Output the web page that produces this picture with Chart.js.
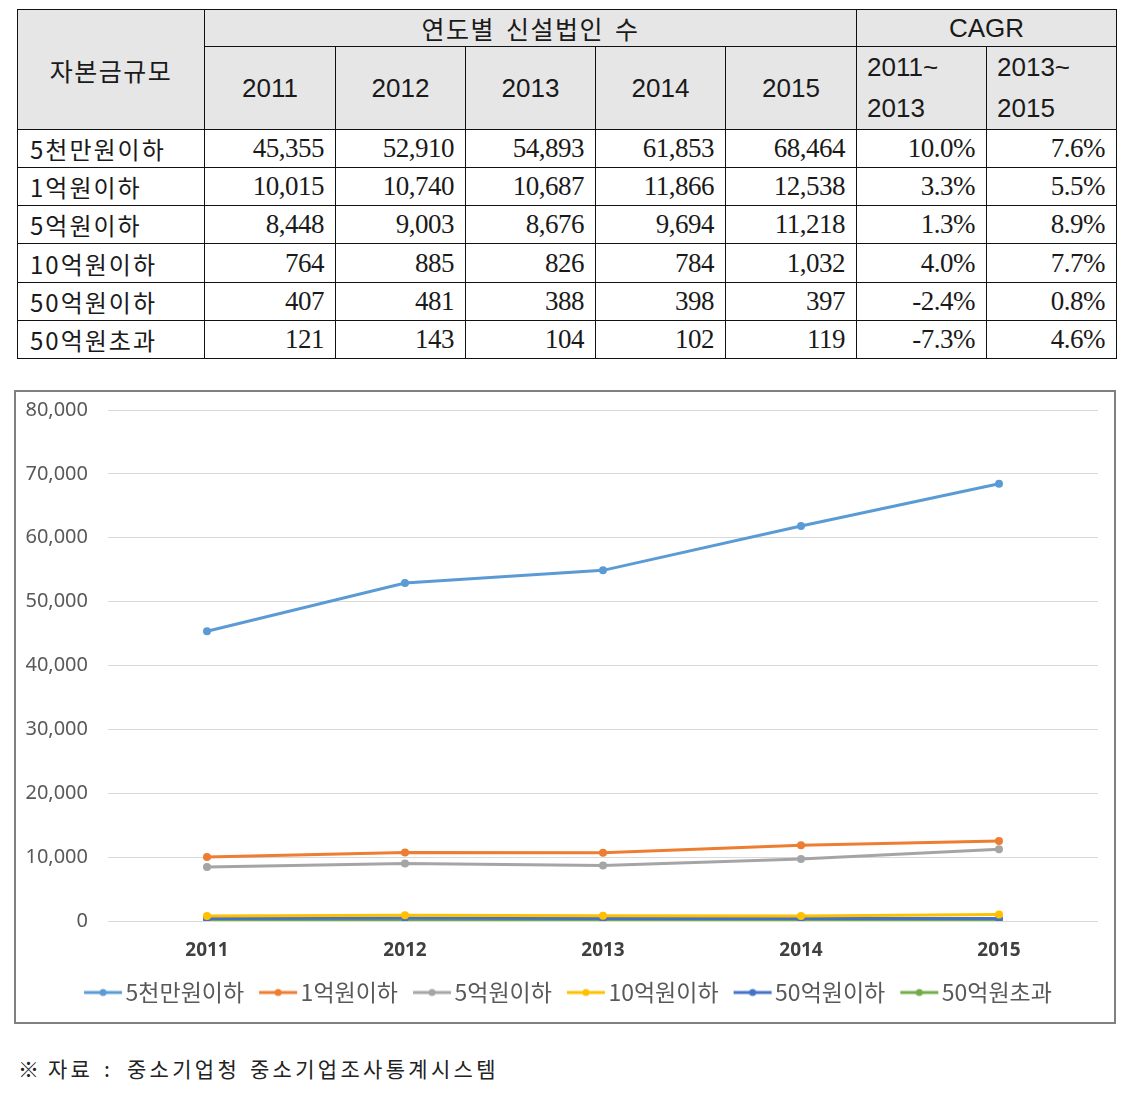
<!DOCTYPE html>
<html><head><meta charset="utf-8">
<script src="https://cdn.jsdelivr.net/npm/chart.js@4/dist/chart.umd.min.js"></script>
<style>
html,body{margin:0;padding:0;background:#fff;}
body{width:1124px;height:1094px;position:relative;overflow:hidden;}
table{position:absolute;left:17px;top:9px;border-collapse:collapse;table-layout:fixed;}
td,th{border:1.5px solid #111;padding:0;color:#1a1a1a;}
th{background:#e6e6e6;font-family:"Noto Sans CJK KR","Liberation Sans",sans-serif;font-weight:normal;font-size:25px;letter-spacing:1.5px;word-spacing:4px;}
td.lab{font-family:"Noto Sans CJK KR",serif;font-size:24px;text-align:left;padding-left:12px;letter-spacing:2px;}
td.num{font-family:"Liberation Serif",serif;font-size:27px;text-align:right;padding-right:11px;letter-spacing:-0.5px;}
th.yr{font-family:"Liberation Sans",sans-serif;font-size:26px;letter-spacing:0;}
th.cg{font-family:"Liberation Sans",sans-serif;font-size:26px;text-align:left;padding-left:10px;line-height:41px;letter-spacing:0;}
#box{position:absolute;left:14px;top:390px;width:1102px;height:634px;box-sizing:border-box;border:2px solid #808080;}
#c{display:block;}
.nt{position:absolute;top:1053px;font-family:"Noto Sans CJK KR",sans-serif;font-size:21px;color:#222;white-space:pre;letter-spacing:3.3px;}
</style></head>
<body>
<table id="tbl"></table>
<div id="box"><canvas id="c" width="1098" height="630"></canvas></div>
<span class="nt" style="left:18px">※</span><span class="nt" style="left:48px">자료</span><span class="nt" style="left:104px">:</span><span class="nt" style="left:127px">중소기업청</span><span class="nt" style="left:250px">중소기업조사통계시스템</span>
<script>
const years = ['2011','2012','2013','2014','2015'];
const categories = ['5천만원이하','1억원이하','5억원이하','10억원이하','50억원이하','50억원초과'];
const s5cheon = [45355,52910,54893,61853,68464];
const s1eok = [10015,10740,10687,11866,12538];
const s5eok = [8448,9003,8676,9694,11218];
const s10eok = [764,885,826,784,1032];
const s50eok = [407,481,388,398,397];
const s50over = [121,143,104,102,119];
const cagr1113 = ['10.0%','3.3%','1.3%','4.0%','-2.4%','-7.3%'];
const cagr1315 = ['7.6%','5.5%','8.9%','7.7%','0.8%','4.6%'];
const yTicks = [0,10000,20000,30000,40000,50000,60000,70000,80000];
const colors = ['#5B9BD5','#ED7D31','#A5A5A5','#FFC000','#4472C4','#70AD47'];
const seriesList = [s5cheon,s1eok,s5eok,s10eok,s50eok,s50over];

// table
const colW=[187,131,130,130,130,131,130,130];
const rowH=[35,80,38,38,38,39,38,38];
let h='<colgroup>'+colW.map(w=>`<col style="width:${w}px">`).join('')+'</colgroup>';
h+=`<tr style="height:${rowH[0]}px"><th rowspan="2">자본금규모</th><th colspan="5">연도별 신설법인 수</th><th colspan="2" class="yr">CAGR</th></tr>`;
h+=`<tr style="height:${rowH[1]}px">`+years.map(y=>`<th class="yr">${y}</th>`).join('')+`<th class="cg">2011~<br>2013</th><th class="cg">2013~<br>2015</th></tr>`;
categories.forEach((c,i)=>{
  h+=`<tr style="height:${rowH[i+2]}px"><td class="lab">${c}</td>`+seriesList[i].map(v=>`<td class="num">${v.toLocaleString('en-US')}</td>`).join('')+`<td class="num">${cagr1113[i]}</td><td class="num">${cagr1315[i]}</td></tr>`;
});
document.getElementById('tbl').innerHTML=h;

// legend marker: line+dot image, shifted so it sits just before text
function marker(col){
  const cv=document.createElement('canvas');cv.width=76;cv.height=10;
  const x=cv.getContext('2d');
  x.strokeStyle=col;x.lineWidth=3;x.beginPath();x.moveTo(23,5);x.lineTo(61,5);x.stroke();
  x.fillStyle=col;x.beginPath();x.arc(42,5,3.5,0,Math.PI*2);x.fill();
  return cv;
}
const markers=colors.map(marker);

const shiftLegend={id:'shiftLegend',afterLayout(chart){const l=chart.legend;if(l){l.left+=11;l.right+=11;}}};

new Chart(document.getElementById('c'),{
  type:'line',
  plugins:[shiftLegend],
  data:{labels:years,datasets:categories.map((c,i)=>({
    label:c,data:seriesList[i],borderColor:colors[i],backgroundColor:colors[i],
    borderWidth:3,pointRadius:4,pointBorderWidth:0,tension:0
  }))},
  options:{
    responsive:false,animation:false,
    layout:{padding:{left:0,right:16,top:18,bottom:8}},
    plugins:{
      tooltip:{enabled:false},
      legend:{position:'bottom',
        labels:{usePointStyle:true,pointStyleWidth:30,padding:15,color:'#595959',
          font:{family:'"Noto Sans CJK KR"',size:23},
          generateLabels:(ch)=>ch.data.datasets.map((d,i)=>({text:d.label,pointStyle:markers[i],fillStyle:colors[i],strokeStyle:colors[i],lineWidth:0,datasetIndex:i,fontColor:'#595959'}))
        }}
    },
    scales:{
      x:{offset:true,grid:{display:false},border:{display:false},
        ticks:{color:'#404040',padding:10,font:{family:'"Noto Sans"',size:19,weight:'bold'}},
        afterFit:s=>{s.height=45;}},
      y:{min:0,max:80000,
        afterBuildTicks:s=>{s.ticks=yTicks.map(v=>({value:v}));},
        grid:{color:'#d9d9d9',drawTicks:false,lineWidth:1},border:{display:false},
        ticks:{color:'#595959',padding:20,font:{family:'"Noto Sans"',size:20},callback:v=>v.toLocaleString('en-US')},
        afterFit:s=>{s.width=92;s.paddingTop=0;s.paddingBottom=0;}}
    }
  }
});
</script>
</body></html>
